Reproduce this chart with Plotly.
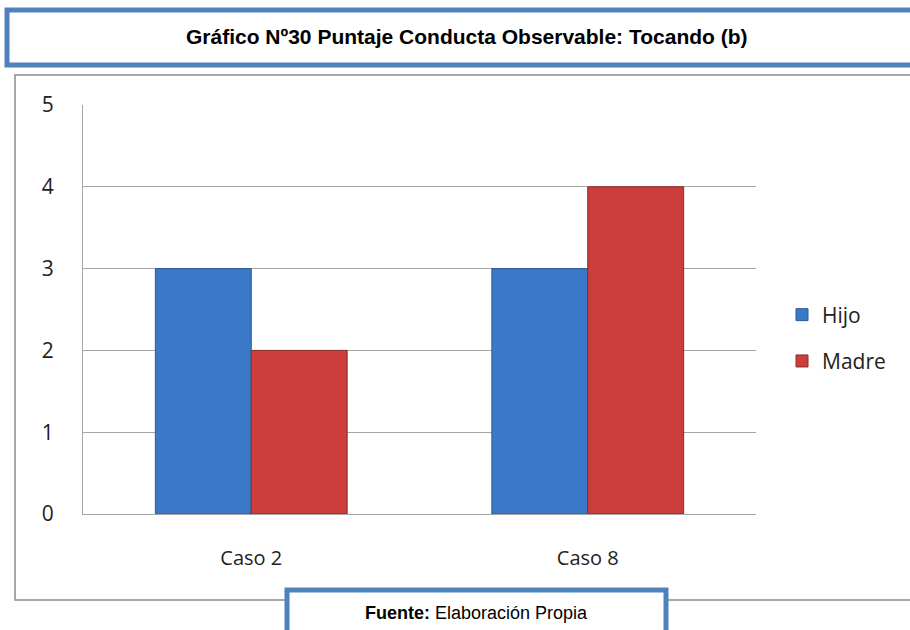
import plotly.graph_objects as go

categories = ["Caso 2", "Caso 8"]
hijo = [3, 3]
madre = [2, 4]
series_names = ["Hijo", "Madre"]
title_text = "Gráfico Nº30 Puntaje Conducta Observable: Tocando (b)"
source_bold = "Fuente:"
source_text = " Elaboración Propia"

W, H = 910, 630
L, R, T, B = 83, 756, 105, 514

def px(x):
    return (x - L) / (R - L)

def py(y):
    return (B - y) / (B - T)

fig = go.Figure()
fig.add_trace(go.Bar(x=categories, y=hijo, name=series_names[0], legendgroup="a",
                     marker=dict(color="#3B78C8", line=dict(color="#2A5A99", width=1))))
fig.add_trace(go.Bar(x=categories, y=madre, name=series_names[1], legendgroup="b",
                     marker=dict(color="#CC3D3B", line=dict(color="#8E2A28", width=1))))

shapes = [
    dict(type="rect", xref="paper", yref="paper", x0=px(15), x1=px(925), y0=py(75), y1=py(600),
         line=dict(color="#8C8C8C", width=1.5), fillcolor="rgba(0,0,0,0)", layer="below"),
    dict(type="rect", xref="paper", yref="paper", x0=px(7), x1=px(930), y0=py(10), y1=py(65),
         line=dict(color="#4F81BD", width=5), fillcolor="white"),
    dict(type="rect", xref="paper", yref="paper", x0=px(287), x1=px(666), y0=py(590), y1=py(650),
         line=dict(color="#4F81BD", width=5), fillcolor="white"),
]

annotations = [
    dict(text="<b>" + title_text + "</b>", xref="paper", yref="paper", x=px(467), y=py(37),
         xanchor="center", yanchor="middle", showarrow=False,
         font=dict(family="Liberation Sans, Arial", size=21, color="black")),
    dict(text="<b>" + source_bold + "</b>" + source_text, xref="paper", yref="paper", x=px(476), y=py(613),
         xanchor="center", yanchor="middle", showarrow=False,
         font=dict(family="Liberation Sans, Arial", size=18, color="black")),
]

fig.update_layout(
    width=W, height=H,
    margin=dict(l=L, r=W - R, t=T, b=H - B, pad=0),
    paper_bgcolor="white", plot_bgcolor="white",
    barmode="group", bargap=0.43, bargroupgap=0,
    shapes=shapes, annotations=annotations,
    legend=dict(x=px(782), y=py(338), xanchor="left", yanchor="middle",
                font=dict(family="Open Sans, DejaVu Sans", size=21, color="#222"),
                tracegroupgap=16, traceorder="grouped", itemwidth=30,
                bgcolor="rgba(0,0,0,0)"),
    showlegend=True,
)
fig.update_yaxes(range=[0, 5], dtick=1, showgrid=True, gridcolor="#A6A6A6", gridwidth=1,
                 showline=True, linecolor="#A6A6A6", linewidth=1, zeroline=False,
                 tickfont=dict(family="Open Sans, DejaVu Sans", size=21, color="#222"),
                 ticklabelstandoff=24, ticks="")
fig.update_xaxes(showline=True, linecolor="#A6A6A6", linewidth=1, showgrid=False,
                 tickfont=dict(family="Open Sans, DejaVu Sans", size=20, color="#222"),
                 ticklabelstandoff=26, ticks="")

fig.write_html("out.html", config={"displayModeBar": False},
               post_script="document.body.style.margin='0';document.body.style.overflow='hidden';")
